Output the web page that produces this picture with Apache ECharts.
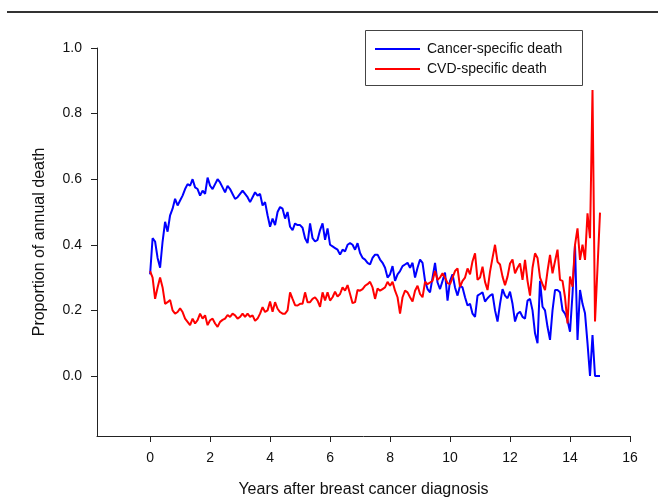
<!DOCTYPE html>
<html>
<head>
<meta charset="utf-8">
<script src="https://cdn.jsdelivr.net/npm/echarts@6/dist/echarts.min.js"></script>
<style>
html,body{margin:0;padding:0;background:#fff;}
#chart{width:658px;height:499px;}
</style>
</head>
<body>
<div id="chart"></div>
<script>
// Monthly observations (years after diagnosis = index / 12)
const monthsPerYear = 12;
const cancerDeath = [
0.31,0.42,0.41,0.36,0.33,0.41,0.47,0.44,0.49,0.51,0.54,0.52,
0.535,0.55,0.57,0.585,0.58,0.60,0.575,0.57,0.55,0.565,0.555,0.605,
0.58,0.57,0.585,0.60,0.59,0.575,0.56,0.58,0.57,0.555,0.54,0.545,
0.555,0.565,0.555,0.545,0.53,0.545,0.56,0.55,0.555,0.52,0.53,0.49,
0.455,0.48,0.46,0.50,0.515,0.51,0.48,0.50,0.455,0.445,0.465,0.46,
0.46,0.452,0.42,0.405,0.465,0.42,0.41,0.415,0.445,0.465,0.415,0.45,
0.40,0.395,0.39,0.385,0.37,0.385,0.38,0.40,0.405,0.40,0.385,0.405,
0.375,0.36,0.355,0.345,0.34,0.36,0.37,0.37,0.355,0.345,0.33,0.30,
0.31,0.335,0.29,0.31,0.32,0.335,0.34,0.345,0.33,0.345,0.30,0.33,
0.355,0.345,0.29,0.265,0.255,0.30,0.345,0.285,0.265,0.29,0.315,0.23,
0.29,0.31,0.27,0.245,0.275,0.27,0.24,0.215,0.22,0.19,0.18,0.245,
0.25,0.255,0.227,0.237,0.245,0.25,0.20,0.166,0.22,0.265,0.245,0.237,
0.257,0.22,0.166,0.19,0.196,0.18,0.175,0.23,0.235,0.20,0.13,0.10,
0.29,0.211,0.20,0.15,0.11,0.20,0.262,0.262,0.255,0.201,0.19,0.17,
0.135,0.25,0.40,0.11,0.262,0.22,0.191,0.10,0.0,0.125,0.0,0.0,
0.0
];
const cvdDeath = [
0.32,0.30,0.235,0.27,0.30,0.27,0.22,0.225,0.232,0.20,0.19,0.195,
0.206,0.195,0.175,0.165,0.155,0.175,0.16,0.17,0.19,0.175,0.185,0.155,
0.17,0.175,0.16,0.15,0.165,0.171,0.175,0.186,0.18,0.19,0.185,0.175,
0.18,0.19,0.18,0.19,0.18,0.185,0.168,0.175,0.19,0.21,0.195,0.20,
0.227,0.196,0.225,0.205,0.195,0.19,0.19,0.20,0.255,0.235,0.216,0.215,
0.22,0.22,0.255,0.225,0.225,0.235,0.24,0.23,0.211,0.255,0.23,0.255,
0.23,0.24,0.257,0.242,0.25,0.27,0.26,0.277,0.25,0.222,0.225,0.262,
0.26,0.265,0.275,0.28,0.287,0.27,0.235,0.267,0.26,0.265,0.27,0.287,
0.275,0.287,0.26,0.24,0.19,0.24,0.26,0.255,0.24,0.227,0.26,0.275,
0.25,0.24,0.287,0.28,0.285,0.29,0.32,0.293,0.30,0.313,0.30,0.283,
0.28,0.30,0.32,0.328,0.272,0.29,0.30,0.328,0.31,0.35,0.374,0.293,
0.30,0.333,0.287,0.262,0.318,0.36,0.40,0.348,0.34,0.303,0.277,0.303,
0.343,0.355,0.313,0.33,0.343,0.293,0.354,0.29,0.245,0.33,0.374,0.36,
0.30,0.28,0.262,0.32,0.369,0.313,0.35,0.385,0.293,0.29,0.24,0.16,
0.303,0.272,0.40,0.45,0.354,0.40,0.354,0.496,0.42,0.872,0.166,0.33,
0.498
];
const xTicks = [0,2,4,6,8,10,12,14,16];
const yTicks = [0,0.2,0.4,0.6,0.8,1.0];
const seriesNames = ['Cancer-specific death','CVD-specific death'];

const toPairs = arr => arr.map((v,i) => [i / monthsPerYear, v]);

const font = 'Liberation Sans, Arial, sans-serif';
const chart = echarts.init(document.getElementById('chart'), null, {renderer:'canvas'});
chart.setOption({
  animation:false,
  backgroundColor:'#fff',
  grid:{left:97, right:28, top:48, bottom:63, containLabel:false, outerBoundsMode:'none'},
  xAxis:{
    type:'value', min:-1.77, max:16,
    name:'Years after breast cancer diagnosis',
    nameLocation:'middle', nameGap:46,
    nameTextStyle:{fontFamily:font, fontSize:16, color:'#111'},
    axisLine:{show:true, onZero:false, lineStyle:{color:'#222', width:1}},
    axisTick:{show:true, inside:false, length:6, customValues:xTicks, lineStyle:{color:'#222'}},
    axisLabel:{customValues:xTicks, fontFamily:font, fontSize:14, color:'#111', margin:15,
      formatter:v=>String(v)},
    splitLine:{show:false}
  },
  yAxis:{
    type:'value', min:-0.183, max:1.0,
    name:'Proportion of annual death',
    nameLocation:'middle', nameGap:49, nameRotate:90,
    nameTextStyle:{fontFamily:font, fontSize:16, color:'#111'},
    axisLine:{show:true, onZero:false, lineStyle:{color:'#222', width:1}},
    axisTick:{show:true, inside:false, length:6, customValues:yTicks, lineStyle:{color:'#222'}},
    axisLabel:{customValues:yTicks, fontFamily:font, fontSize:14, color:'#111', margin:15,
      formatter:v=>v.toFixed(1)},
    splitLine:{show:false}
  },
  legend:{
    orient:'vertical', left:370, top:37, itemGap:6,
    icon:'rect', itemWidth:45, itemHeight:2,
    textStyle:{fontFamily:font, fontSize:14, color:'#111', padding:[0,0,0,2]},
    data:seriesNames
  },
  graphic:[
    {type:'line', shape:{x1:7,y1:12,x2:658,y2:12}, style:{stroke:'#333', lineWidth:2}},
    {type:'rect', shape:{x:365.5,y:30.5,width:217,height:55}, style:{fill:'none', stroke:'#444', lineWidth:1}}
  ],
  series:[
    {name:seriesNames[0], type:'line', data:toPairs(cancerDeath), symbol:'none',
     lineStyle:{color:'#0000ff', width:2}, itemStyle:{color:'#0000ff'}},
    {name:seriesNames[1], type:'line', data:toPairs(cvdDeath), symbol:'none',
     lineStyle:{color:'#ff0000', width:2}, itemStyle:{color:'#ff0000'}}
  ]
});
</script>
</body>
</html>
